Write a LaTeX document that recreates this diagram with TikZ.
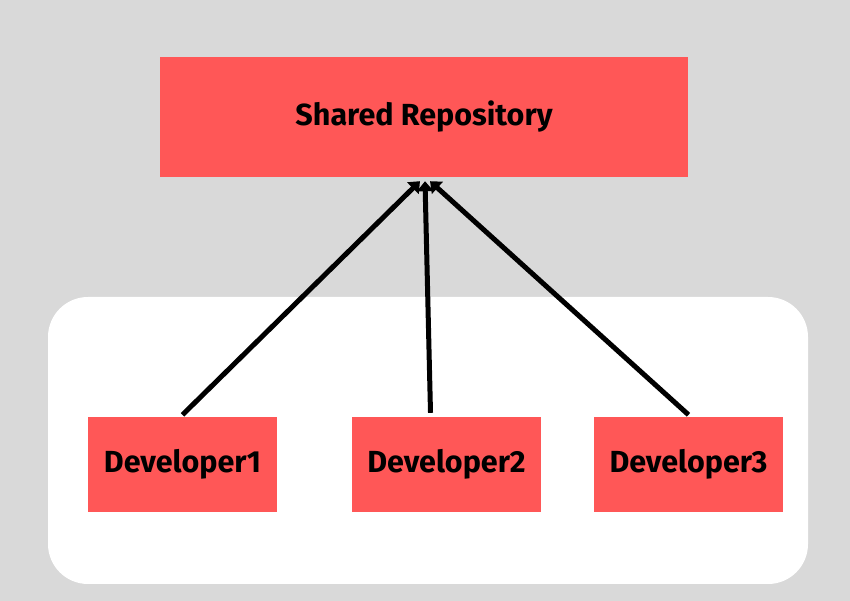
\documentclass[tikz,border=0pt]{standalone}
\usepackage{fontspec}
\setmainfont{Fira Sans}
\usetikzlibrary{arrows.meta}
\definecolor{bg}{HTML}{D9D9D9}
\definecolor{boxred}{HTML}{FF5757}
\tikzset{
  redbox/.style={fill=boxred, draw=none, inner sep=0pt, font=\bfseries\fontsize{30.5}{34}\selectfont},
  devbox/.style={redbox, minimum width=189pt, minimum height=95pt},
  link/.style={line width=5pt, -{Triangle[length=10pt,width=16pt]}}
}
\begin{document}
\begin{tikzpicture}[x=1pt,y=1pt]
  \fill[bg] (0,0) rectangle (850,601);
  \useasboundingbox (0,0) rectangle (850,601);
  \fill[white, rounded corners=40pt] (48,17) rectangle (808,304);
  \node[redbox, minimum width=528pt, minimum height=120pt] (repo) at (424,484) {Shared Repository};
  \node[devbox] (d1) at (182.5,136.5) {Developer1};
  \node[devbox] (d2) at (446.5,136.5) {Developer2};
  \node[devbox] (d3) at (688.5,136.5) {Developer3};
  \draw[link] ([yshift=2pt]d1.north) -- ([xshift=-4pt,yshift=-4pt]repo.south);
  \draw[link] ([xshift=-16pt,yshift=4pt]d2.north) -- ([xshift=1pt,yshift=-4pt]repo.south);
  \draw[link] ([yshift=2pt]d3.north) -- ([xshift=6pt,yshift=-4pt]repo.south);
\end{tikzpicture}
\end{document}
